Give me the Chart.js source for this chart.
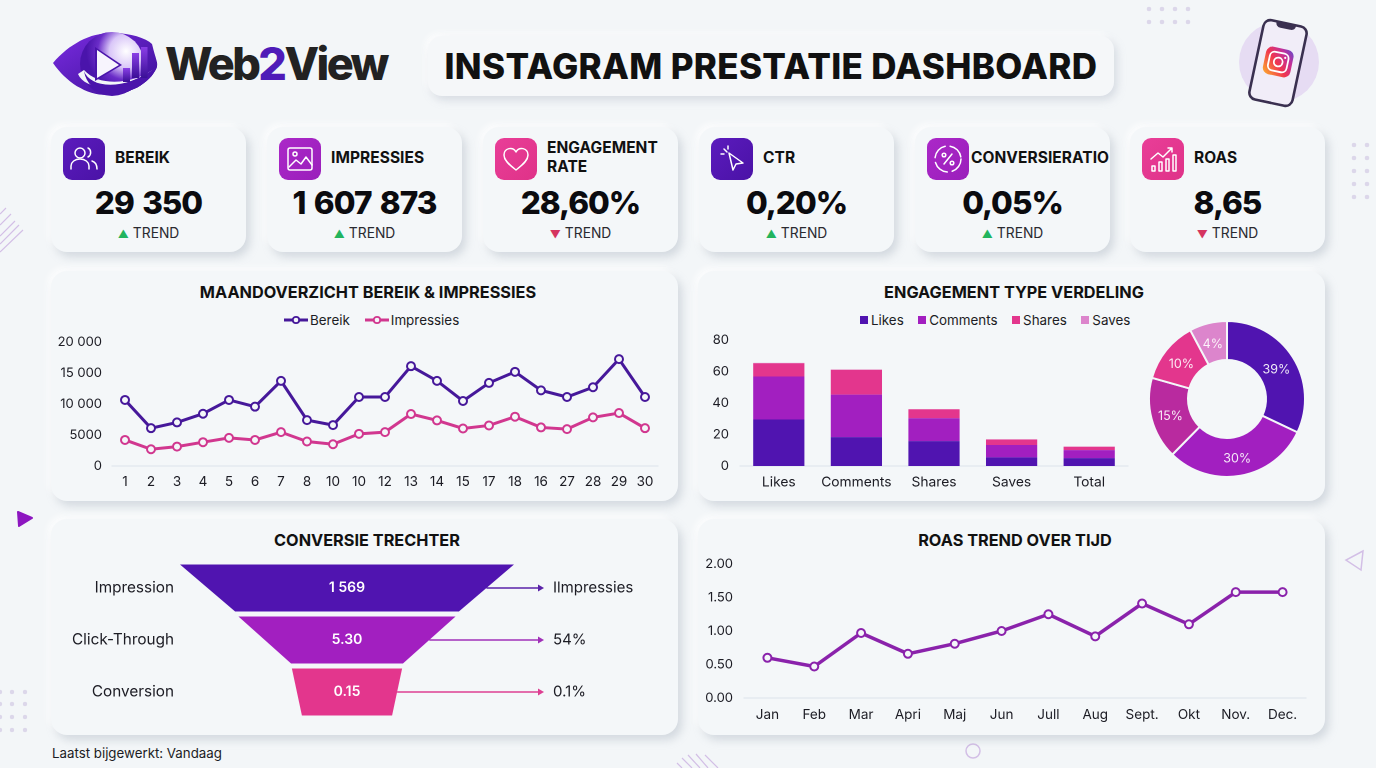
<!DOCTYPE html>
<html lang="nl">
<head>
<meta charset="utf-8">
<title>Instagram Prestatie Dashboard</title>
<script src="https://cdn.jsdelivr.net/npm/chart.js@4/dist/chart.umd.min.js"></script>
<style>
  * { box-sizing: border-box; }
  html, body { margin: 0; padding: 0; width: 1376px; height: 768px; overflow: hidden; background: #f3f6f8; font-family: Inter, sans-serif; color: #111; }
  #decor { position: absolute; left: 0; top: 0; }
  .brand { position: absolute; left: 165px; top: 37px; font-size: 45px; line-height: 54px; font-weight: 800; color: #222; letter-spacing: -2.6px; }
  .brand span { color: #4f1bb8; }
  .head-box { position: absolute; left: 428px; top: 36px; width: 686px; height: 60px; background: #f5f7f9; border-radius: 14px; box-shadow: 3px 4px 8px rgba(160,170,185,.35), -3px -3px 6px rgba(255,255,255,.85); display: flex; align-items: center; justify-content: center; }
  .head-box div { font-size: 35px; font-weight: 800; color: #111; white-space: nowrap; letter-spacing: .32px; }
  .card { position: absolute; background: #f4f7f9; border-radius: 16px; box-shadow: 4px 5px 9px rgba(155,165,180,.36), -3px -3px 7px rgba(255,255,255,.85); }
  .kpi { width: 195px; height: 125px; top: 127px; }
  .kpi .icon { position: absolute; left: 12px; top: 11px; width: 42px; height: 42px; border-radius: 9px; }
  .kpi .name { position: absolute; font-size: 15.5px; line-height: 19px; font-weight: 700; white-space: nowrap; letter-spacing: .05px; }
  .kpi .value { position: absolute; left: 0; width: 100%; top: 56px; text-align: center; font-size: 31.5px; line-height: 40px; font-weight: 800; color: #0b0b0f; letter-spacing: -1px; word-spacing: 2.5px; }
  .kpi .trend { position: absolute; left: 0; width: 100%; top: 97px; text-align: center; font-size: 13.8px; line-height: 18px; color: #2a2a30; }
  .kpi .up { color: #22b45e; font-size: 11px; margin-right: 4px; }
  .kpi .down { color: #d5345f; font-size: 11px; margin-right: 4px; }
  .panel-title { position: absolute; left: 0; width: 100%; top: 11px; text-align: center; font-size: 16.3px; font-weight: 700; line-height: 20px; color: #111; white-space: nowrap; }
  canvas { position: absolute; }
  .legend { position: absolute; display: flex; align-items: center; font-size: 13.4px; line-height: 16px; color: #1c1c24; white-space: nowrap; }
  .legend .item { display: flex; align-items: center; }
  .swatch { width: 8px; height: 8px; margin-right: 3px; display: inline-block; }
  .updated { position: absolute; left: 52px; top: 745px; font-size: 13.3px; line-height: 17px; color: #1c1c24; }
</style>
</head>
<body>

<svg id="decor" width="1376" height="768" viewBox="0 0 1376 768">
  <defs>
    <linearGradient id="eyeGrad" x1="0" y1="0" x2="1" y2="1">
      <stop offset="0" stop-color="#7a2ce0"/><stop offset="1" stop-color="#3a0f96"/>
    </linearGradient>
    <linearGradient id="barGrad" x1="0" y1="0" x2="0" y2="1">
      <stop offset="0" stop-color="#8a3fe6"/><stop offset="1" stop-color="#3a0f96"/>
    </linearGradient>
    <radialGradient id="glow" cx=".72" cy=".3" r=".62">
      <stop offset="0" stop-color="#ffffff"/><stop offset=".42" stop-color="#d9c6f8"/><stop offset=".72" stop-color="#6a2cc8"/><stop offset="1" stop-color="#4a14ab"/>
    </radialGradient>
    <linearGradient id="igGrad" x1="0" y1="1" x2="1" y2="0">
      <stop offset="0" stop-color="#fdb32b"/><stop offset=".45" stop-color="#f0364f"/><stop offset=".75" stop-color="#c22f9b"/><stop offset="1" stop-color="#5b4fd0"/>
    </linearGradient>
  </defs>

  <!-- logo eye -->
  <path d="M53 63 C70 43 92 32 114 33 C130 33 146 38 152 44 C156 60 158 62 157 67 C150 84 128 95 107 95 C86 95 66 82 53 63 Z" fill="url(#eyeGrad)"/>
  <circle cx="112" cy="64" r="32" fill="url(#glow)"/>
  <path d="M78 74 C86 92 124 92 157 67 C135 84 100 88 84 70 Z" fill="#f3f6f8"/>
  <path d="M84 71 C90 88 124 92 157 67 C150 84 128 95 107 95 C96 92 86 84 84 71 Z" fill="#4a14ab"/>
  <path d="M95 47 L122 65 L95 81 Z" fill="#4a14ab"/>
  <path d="M97 50 L119 65 L97 78 Z" fill="#f7f4fd"/>
  <rect x="123" y="68" width="7" height="14" fill="url(#barGrad)"/>
  <rect x="132" y="53" width="7" height="25" fill="url(#barGrad)"/>
  <rect x="141" y="47" width="6.5" height="31" fill="url(#barGrad)"/>

  <!-- phone with instagram icon -->
  <circle cx="1279" cy="62" r="40" fill="#e6dcf3"/>
  <g transform="rotate(12 1278 63)">
    <rect x="1256" y="22.5" width="44" height="81" rx="7" fill="#f1edf8" stroke="#3a3050" stroke-width="2.6"/>
    <path d="M1268 23 h20 c0 4 -3 5 -5 5 h-10 c-2 0 -5 -1 -5 -5 Z" fill="#3a3050"/>
    <rect x="1264" y="48" width="28" height="28" rx="6.5" fill="url(#igGrad)"/>
    <rect x="1268.5" y="52.5" width="19" height="19" rx="5" fill="none" stroke="#fff" stroke-width="1.8"/>
    <circle cx="1278" cy="62" r="4.4" fill="none" stroke="#fff" stroke-width="1.8"/>
    <circle cx="1284" cy="56.5" r="1.1" fill="#fff"/>
  </g>

  <!-- background dots -->
  <g fill="#dcd7ea">
    <circle cx="1149" cy="9" r="2.3"/><circle cx="1162" cy="9" r="2.3"/><circle cx="1175" cy="9" r="2.3"/><circle cx="1188" cy="9" r="2.3"/>
    <circle cx="1149" cy="22" r="2.3"/><circle cx="1162" cy="22" r="2.3"/><circle cx="1175" cy="22" r="2.3"/><circle cx="1188" cy="22" r="2.3"/>
    <circle cx="1354" cy="145" r="2.3"/><circle cx="1367" cy="145" r="2.3"/>
    <circle cx="1354" cy="158" r="2.3"/><circle cx="1367" cy="158" r="2.3"/>
    <circle cx="1354" cy="171" r="2.3"/><circle cx="1367" cy="171" r="2.3"/>
    <circle cx="1354" cy="184" r="2.3"/><circle cx="1367" cy="184" r="2.3"/>
    <circle cx="1354" cy="197" r="2.3"/><circle cx="1367" cy="197" r="2.3"/>
    <circle cx="0" cy="692" r="2.2"/><circle cx="12" cy="692" r="2.2"/><circle cx="25" cy="692" r="2.2"/>
    <circle cx="0" cy="704" r="2.2"/><circle cx="12" cy="704" r="2.2"/><circle cx="25" cy="704" r="2.2"/>
    <circle cx="0" cy="717" r="2.2"/><circle cx="12" cy="717" r="2.2"/><circle cx="25" cy="717" r="2.2"/>
    <circle cx="0" cy="730" r="2.2"/><circle cx="12" cy="730" r="2.2"/><circle cx="25" cy="730" r="2.2"/>
  </g>

  <!-- hatching, triangles, ring -->
  <g stroke="#d3bfe6" stroke-width="1.2" fill="none">
    <path d="M0 214 L6 208 M0 225 L11 214 M0 236 L15 221 M0 244 L19 225 M0 252 L23 230"/>
    <path d="M677 763 L682 768 M682 758 L692 768 M688 755 L700 768 M696 754 L708 768 M705 755 L718 768"/>
  </g>
  <path d="M18 512 L32 518 L19 526 Z" fill="#8d16c0" stroke="#8d16c0" stroke-width="2" stroke-linejoin="round"/>
  <path d="M1363 551 L1346 560 L1361 570 Z" fill="none" stroke="#d3bfe6" stroke-width="1.5"/>
  <circle cx="973" cy="751" r="7" fill="none" stroke="#d3bfe6" stroke-width="1.5"/>
</svg>

<div class="brand">Web<span>2</span>View</div>
<div class="head-box"><div id="mainTitle">INSTAGRAM PRESTATIE DASHBOARD</div></div>

<div id="kpis"></div>

<div class="card" style="left:51px;top:271px;width:627px;height:230px">
  <div class="panel-title" style="padding-left:7px">MAANDOVERZICHT BEREIK &amp; IMPRESSIES</div>
</div>
<div class="card" style="left:698px;top:271px;width:627px;height:230px">
  <div class="panel-title" style="padding-left:5px">ENGAGEMENT TYPE VERDELING</div>
</div>
<div class="card" style="left:51px;top:519px;width:627px;height:216px">
  <div class="panel-title" style="padding-left:5px">CONVERSIE TRECHTER</div>
</div>
<div class="card" style="left:698px;top:519px;width:627px;height:216px">
  <div class="panel-title" style="padding-left:7px">ROAS TREND OVER TIJD</div>
</div>

<div class="legend" id="lineLegend" style="left:284px;top:312px"></div>
<div class="legend" id="barLegend" style="left:860px;top:312px"></div>

<canvas id="monthChart" style="left:51px;top:271px;width:627px;height:230px"></canvas>
<canvas id="barChart" style="left:698px;top:271px;width:440px;height:230px"></canvas>
<canvas id="donutChart" style="left:1140px;top:312px;width:174px;height:174px"></canvas>
<canvas id="funnelChart" style="left:51px;top:519px;width:627px;height:216px"></canvas>
<canvas id="roasChart" style="left:698px;top:519px;width:627px;height:216px"></canvas>

<div class="updated">Laatst bijgewerkt: Vandaag</div>

<script>
// KPI row
const kpiNames = ['BEREIK', 'IMPRESSIES', 'ENGAGEMENT<br>RATE', 'CTR', 'CONVERSIERATIO', 'ROAS'];
const kpiValues = ['29 350', '1 607 873', '28,60%', '0,20%', '0,05%', '8,65'];
const kpiTrends = ['up', 'up', 'down', 'up', 'up', 'down'];

// monthly overview
const dayLabels = ['1', '2', '3', '4', '5', '6', '7', '8', '10', '10', '12', '13', '14', '15', '17', '18', '16', '27', '28', '29', '30'];
const bereik = [10650, 6100, 7030, 8430, 10650, 9570, 13730, 7400, 6600, 11130, 11130, 16100, 13730, 10490, 13400, 15190, 12200, 11130, 12700, 17240, 11130];
const impressies = [4200, 2700, 3130, 3840, 4540, 4200, 5460, 3950, 3510, 5190, 5460, 8380, 7350, 6050, 6540, 7950, 6220, 5950, 7840, 8540, 6100];

// engagement stacks
const engagementCats = ['Likes', 'Comments', 'Shares', 'Saves', 'Total'];
const likes = [29.5, 18.3, 15.8, 5.5, 5];
const comments = [27.3, 27, 14.5, 7.8, 5.1];
const shares = [8.4, 15.8, 5.7, 3.5, 2.1];
const saves = [0.3, 0.2, 0, 0.1, 0.2];

// donut: slice sizes as drawn, printed labels differ
const donutSizes = [32, 30.3, 17, 12.8, 7.8];
const donutLabels = ['39%', '30%', '15%', '10%', '4%'];

// funnel
const funnelStages = ['Impression', 'Click-Through', 'Conversion'];
const funnelTop = [100, 65, 33];
const funnelBottom = [67, 33.5, 27];
const funnelValues = ['1 569', '5.30', '0.15'];
const funnelNotes = ['Ilmpressies', '54%', '0.1%'];

// ROAS
const months = ['Jan', 'Feb', 'Mar', 'Apri', 'Maj', 'Jun', 'Jull', 'Aug', 'Sept.', 'Okt', 'Nov.', 'Dec.'];
const roas = [0.60, 0.47, 0.97, 0.66, 0.81, 1.00, 1.25, 0.92, 1.41, 1.10, 1.58, 1.58];

const PURPLE_DARK = '#5014b0';
const PURPLE = '#a21fc0';
const PINK = '#e3368d';
const PINK_LIGHT = '#dc85cc';
const LINE_BEREIK = '#46189a';
const LINE_IMPR = '#d1378f';
const LINE_ROAS = '#8a22ab';
const AXIS_LINE = '#dde2ea';
const CARD_BG = '#f4f7f9';

const kpiLeft = [51, 267, 483, 699, 915, 1130];
const kpiIconBg = [
  'linear-gradient(135deg,#5b1bbd,#4a12a6)', 'linear-gradient(135deg,#ab28c8,#9a1fbb)', 'linear-gradient(135deg,#e93e98,#df3288)',
  'linear-gradient(135deg,#5b1bbd,#4a12a6)', 'linear-gradient(135deg,#ab28c8,#9a1fbb)', 'linear-gradient(135deg,#e93e98,#df3288)'
];
const kpiIcons = [
  '<circle cx="17" cy="15" r="5"/><path d="M8 31v-3c0-4 4-7 9-7s9 3 9 7v3M25 10c3 1 4 7 0 9M29 23c3 1 5 4 5 8"/>',
  '<rect x="9" y="10" width="24" height="22" rx="2"/><circle cx="16" cy="16" r="2"/><path d="M10 29l7-7 5 4 5-7 6 8"/>',
  '<path d="M21 32C13 26 9 22 9 17c0-7 9-9 12-3 3-6 12-4 12 3 0 5-4 9-12 15z"/>',
  '<path d="M18 15l4 17 3-6 7-1zM13 11l3 3M17 8v3M10 16h3"/>',
  '<circle cx="21" cy="21" r="13" stroke-dasharray="16 5"/><path d="M17 26l8-10"/><circle cx="17" cy="17" r="1.8"/><circle cx="25" cy="25" r="1.8"/>',
  '<path d="M9 21l7-6 5 4 9-9M26 10h4v4M10 33v-5h3v5zM17 33v-9h3v9zM24 33v-12h3v12zM31 33v-16h3v16z"/>'
];

const kpiWrap = document.getElementById('kpis');
kpiNames.forEach((name, i) => {
  const nameTop = name.includes('<br>') ? 11 : 21;
  const nameLeft = i === 4 ? 56 : 64;
  const box = document.createElement('div');
  box.className = 'card kpi';
  box.style.left = kpiLeft[i] + 'px';
  box.innerHTML =
    '<div class="icon" style="background:' + kpiIconBg[i] + '"><svg width="42" height="42" fill="none" stroke="#fff" stroke-width="1.5" stroke-linecap="round" stroke-linejoin="round">' + kpiIcons[i] + '</svg></div>' +
    '<div class="name" style="left:' + nameLeft + 'px;top:' + nameTop + 'px">' + name + '</div>' +
    '<div class="value">' + kpiValues[i] + '</div>' +
    '<div class="trend"><span class="' + kpiTrends[i] + '">' + (kpiTrends[i] === 'up' ? '▲' : '▼') + '</span>TREND</div>';
  kpiWrap.appendChild(box);
});

// legends, styled like the picture
function lineLegendItem(label, color, gap) {
  return '<div class="item" style="margin-right:' + gap + 'px"><svg width="24" height="10" style="margin-right:2px"><line x1="0" y1="5" x2="24" y2="5" stroke="' + color + '" stroke-width="3"/><circle cx="12" cy="5" r="3.2" fill="' + CARD_BG + '" stroke="' + color + '" stroke-width="1.8"/></svg>' + label + '</div>';
}
document.getElementById('lineLegend').innerHTML = lineLegendItem('Bereik', LINE_BEREIK, 15) + lineLegendItem('Impressies', LINE_IMPR, 0);

const barLegendColors = [PURPLE_DARK, PURPLE, PINK, PINK_LIGHT];
document.getElementById('barLegend').innerHTML = ['Likes', 'Comments', 'Shares', 'Saves'].map((label, i) =>
  '<div class="item" style="margin-right:' + (i < 3 ? 14.5 : 0) + 'px"><span class="swatch" style="background:' + barLegendColors[i] + '"></span>' + label + '</div>'
).join('');

Chart.defaults.font.family = 'Inter, sans-serif';
Chart.defaults.font.size = 13;
Chart.defaults.color = '#1c1c24';
Chart.defaults.animation = false;
Chart.defaults.responsive = false;
Chart.defaults.devicePixelRatio = 2;

function setSize(id) {
  const el = document.getElementById(id);
  el.width = parseInt(el.style.width);
  el.height = parseInt(el.style.height);
  return el;
}

function fixedY(width) {
  return function (scale) { scale.width = width; };
}
function fixedX(height) {
  return function (scale) { scale.height = height; };
}
const groupThousands = v => v >= 10000 ? String(v).replace(/(\d{3})$/, ' $1') : String(v);
const noGrid = { display: false, drawTicks: false };

function lineSet(label, data, color) {
  return {
    label: label, data: data, borderColor: color, borderWidth: 3, tension: 0,
    pointRadius: 4, pointBorderWidth: 2, pointBackgroundColor: CARD_BG, pointBorderColor: color
  };
}

new Chart(setSize('monthChart'), {
  type: 'line',
  data: { labels: dayLabels, datasets: [lineSet('Bereik', bereik, LINE_BEREIK), lineSet('Impressies', impressies, LINE_IMPR)] },
  options: {
    layout: { padding: { top: 71, right: 20 } },
    plugins: { legend: { display: false }, tooltip: { enabled: false } },
    scales: {
      x: { offset: true, grid: noGrid, border: { color: AXIS_LINE }, afterFit: fixedX(35), ticks: { padding: 8, autoSkip: false, maxRotation: 0, font: { size: 13.5 } } },
      y: { min: 0, max: 20000, grid: noGrid, border: { display: false }, afterFit: fixedY(61), ticks: { stepSize: 5000, padding: 10, callback: groupThousands } }
    }
  }
});

new Chart(setSize('barChart'), {
  type: 'bar',
  data: {
    labels: engagementCats,
    datasets: [
      { label: 'Likes', data: likes, backgroundColor: PURPLE_DARK },
      { label: 'Comments', data: comments, backgroundColor: PURPLE },
      { label: 'Shares', data: shares, backgroundColor: PINK },
      { label: 'Saves', data: saves, backgroundColor: PINK_LIGHT }
    ]
  },
  options: {
    layout: { padding: { top: 69, right: 10 } },
    datasets: { bar: { categoryPercentage: 1, barPercentage: 0.66 } },
    plugins: { legend: { display: false }, tooltip: { enabled: false } },
    scales: {
      x: { stacked: true, grid: noGrid, border: { color: AXIS_LINE }, afterFit: fixedX(35), ticks: { padding: 8, maxRotation: 0, font: { size: 13.8 } } },
      y: { stacked: true, min: 0, max: 80, grid: noGrid, border: { display: false }, afterFit: fixedY(42), ticks: { stepSize: 20, padding: 11 } }
    }
  }
});

// white percentage labels on the donut ring
const donutTextPlugin = {
  id: 'donutText',
  afterDatasetsDraw(chart) {
    const ctx = chart.ctx;
    ctx.save();
    ctx.fillStyle = 'rgba(255,255,255,.9)';
    ctx.font = '12.5px Inter, sans-serif';
    ctx.textAlign = 'center';
    ctx.textBaseline = 'middle';
    chart.getDatasetMeta(0).data.forEach((arc, i) => {
      const p = arc.tooltipPosition();
      ctx.fillText(donutLabels[i], p.x, p.y + 2);
    });
    ctx.restore();
  }
};

new Chart(setSize('donutChart'), {
  type: 'doughnut',
  data: {
    labels: donutLabels,
    datasets: [{
      data: donutSizes,
      backgroundColor: [PURPLE_DARK, PURPLE, '#b92a9f', PINK, PINK_LIGHT],
      borderColor: CARD_BG, borderWidth: 2
    }]
  },
  options: {
    cutout: '50%',
    layout: { padding: 8 },
    plugins: { legend: { display: false }, tooltip: { enabled: false } }
  },
  plugins: [donutTextPlugin]
});

// funnel: bands are drawn as trapezoids over the bar positions, arrows lead to the notes
const funnelColors = [PURPLE_DARK, PURPLE, PINK];
const funnelArrowColors = ['#5a22a8', '#a030b8', '#dd3f92'];
const funnelPlugin = {
  id: 'funnelShapes',
  afterDatasetsDraw(chart) {
    const ctx = chart.ctx;
    const x = chart.scales.x;
    const meta = chart.getDatasetMeta(0);
    ctx.save();
    meta.data.forEach((bar, i) => {
      const top = bar.y - bar.height / 2;
      const bottom = bar.y + bar.height / 2;
      ctx.fillStyle = funnelColors[i];
      ctx.beginPath();
      ctx.moveTo(x.getPixelForValue(-funnelTop[i] / 2), top);
      ctx.lineTo(x.getPixelForValue(funnelTop[i] / 2), top);
      ctx.lineTo(x.getPixelForValue(funnelBottom[i] / 2), bottom);
      ctx.lineTo(x.getPixelForValue(-funnelBottom[i] / 2), bottom);
      ctx.closePath();
      ctx.fill();

      ctx.fillStyle = '#fff';
      ctx.font = '600 14px Inter, sans-serif';
      ctx.textAlign = 'center';
      ctx.textBaseline = 'middle';
      ctx.fillText(funnelValues[i], x.getPixelForValue(0), bar.y);

      const startX = x.getPixelForValue((funnelTop[i] + funnelBottom[i]) / 4);
      const endX = chart.chartArea.right + 30;
      ctx.strokeStyle = funnelArrowColors[i];
      ctx.fillStyle = funnelArrowColors[i];
      ctx.lineWidth = 1.4;
      ctx.beginPath();
      ctx.moveTo(startX, bar.y);
      ctx.lineTo(endX - 5, bar.y);
      ctx.stroke();
      ctx.beginPath();
      ctx.moveTo(endX, bar.y);
      ctx.lineTo(endX - 6, bar.y - 3.5);
      ctx.lineTo(endX - 6, bar.y + 3.5);
      ctx.closePath();
      ctx.fill();

      ctx.fillStyle = '#1c1c24';
      ctx.font = '15px Inter, sans-serif';
      ctx.textAlign = 'left';
      ctx.fillText(funnelNotes[i], endX + 9, bar.y);
    });
    ctx.restore();
  }
};

new Chart(setSize('funnelChart'), {
  type: 'bar',
  data: {
    labels: funnelStages,
    datasets: [{
      data: funnelTop.map(w => [-w / 2, w / 2]),
      backgroundColor: 'rgba(0,0,0,0)',
      categoryPercentage: 1,
      barPercentage: 0.904
    }]
  },
  options: {
    indexAxis: 'y',
    layout: { padding: { top: 43, right: 164, bottom: 17 } },
    plugins: { legend: { display: false }, tooltip: { enabled: false } },
    scales: {
      x: { display: false, min: -50, max: 50 },
      y: { grid: noGrid, border: { display: false }, afterFit: fixedY(129), ticks: { padding: 6, font: { size: 15.3 } } }
    }
  },
  plugins: [funnelPlugin]
});

new Chart(setSize('roasChart'), {
  type: 'line',
  data: { labels: months, datasets: [Object.assign(lineSet('ROAS', roas, LINE_ROAS), { borderWidth: 3.5 })] },
  options: {
    layout: { padding: { top: 45, right: 19 } },
    plugins: { legend: { display: false }, tooltip: { enabled: false } },
    scales: {
      x: { offset: true, grid: noGrid, border: { color: AXIS_LINE }, afterFit: fixedX(37), ticks: { padding: 9, autoSkip: false, maxRotation: 0, font: { size: 13.5 } } },
      y: { min: 0, max: 2, grid: noGrid, border: { display: false }, afterFit: fixedY(46), ticks: { stepSize: 0.5, padding: 11, callback: v => v.toFixed(2) } }
    }
  }
});
</script>
</body>
</html>
